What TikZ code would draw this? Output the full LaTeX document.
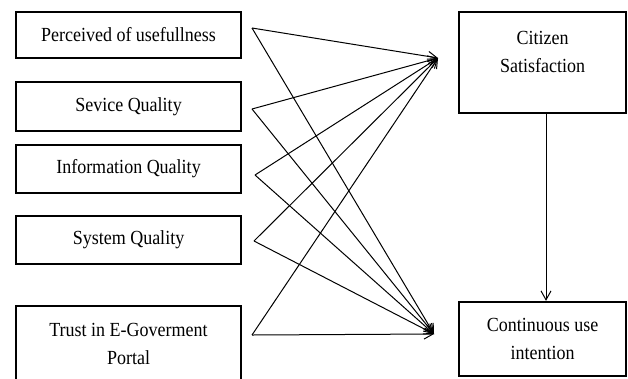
\documentclass[tikz,border=0pt]{standalone}
\usepackage{fontspec}
\setmainfont[FakeStretch=0.9]{Liberation Serif}
\usetikzlibrary{arrows.meta,calc}
\begin{document}
\begin{tikzpicture}[x=1bp,y=-1bp,
  txt/.style={inner sep=0pt, align=center, font=\fontsize{20bp}{28bp}\selectfont},
  lbox/.style={txt, draw, line width=1.6bp, minimum width=225bp},
  rbox/.style={txt, draw, line width=2.2bp, minimum width=167bp},
  link/.style={line width=1bp, -{Straight Barb[length=9bp,width=10bp]}}]
\useasboundingbox (0,0) rectangle (628,378);
% left boxes
\node[lbox, minimum height=46bp] (b1) at (128.5,35) {Perceived of usefullness};
\node[lbox, minimum height=49bp] (b2) at (128.5,106.5) {Sevice Quality};
\node[lbox, minimum height=48bp] (b3) at (128.5,169) {Information Quality};
\node[lbox, minimum height=48bp] (b4) at (128.5,240) {System  Quality};
\node[lbox, minimum height=76bp] (b5) at (128.5,344) {Trust in E-Goverment\\Portal};
% right boxes
\node[rbox, minimum height=101bp] (cs) at (542.5,62.5) {};
\node[txt, anchor=north] (cst) at (542.5,31.5) {Citizen\\Satisfaction};
\node[rbox, minimum height=74bp] (cu) at (542.5,339) {Continuous use\\intention};
% connector ends
\coordinate (s1) at (252,28);
\coordinate (s2) at (252,109);
\coordinate (s3) at (255,175);
\coordinate (s4) at (254,241);
\coordinate (s5) at (252,335);
\coordinate (t1) at (438,58);
\coordinate (t2) at (434,334);
\foreach \s in {s1,s2,s3,s4,s5}{
  \draw[link] (\s) -- (t1);
  \draw[link] (\s) -- (t2);
}
\draw[link] ($(cs.south)+(3.5,0)$) -- ($(cu.north)+(3.5,0)$);
\end{tikzpicture}
\end{document}
